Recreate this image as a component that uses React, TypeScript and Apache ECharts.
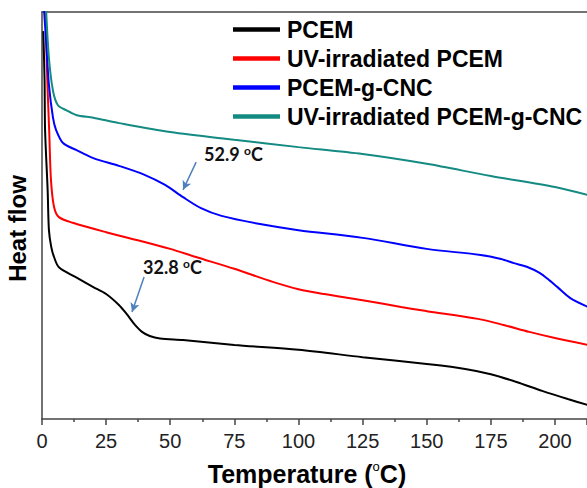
import React, { useEffect, useRef } from "react";
import * as echarts from "echarts";

const seriesNames = ["PCEM", "UV-irradiated PCEM", "PCEM-g-CNC", "UV-irradiated PCEM-g-CNC"];
const seriesColors = ["#000000", "#ff0000", "#0000ff", "#138a82"];

const pcemT = [0.5, 1.0, 1.2, 2.2, 2.7, 3.6, 4.7, 6.6, 13, 20, 25, 30, 33, 36, 39, 42, 46, 55, 75, 100, 125, 150, 165, 175, 185, 195, 205, 213];
const pcemY = [95.3, 83.3, 71.0, 56.3, 46.4, 42.3, 39.8, 37.3, 34.9, 32.4, 30.7, 28.0, 25.8, 23.3, 21.4, 20.4, 19.8, 19.4, 18.2, 17.0, 15.2, 13.5, 12.3, 11.0, 9.1, 6.9, 4.9, 3.4];

const uvPcemT = [1.4, 1.95, 2.85, 3.5, 4.7, 6.6, 12, 25, 40, 50, 60, 75, 90, 100, 110, 125, 140, 150, 170, 180, 190, 200, 213];
const uvPcemY = [101, 85.5, 70.0, 58.7, 52.1, 49.6, 48.2, 45.9, 43.5, 41.8, 39.8, 36.9, 33.7, 31.9, 30.7, 29.2, 27.5, 26.5, 24.6, 23.1, 21.4, 19.9, 18.2];

const cncT = [0.8, 1.6, 2.7, 4.3, 5.5, 8.2, 13.3, 20, 30, 40, 48, 55, 62, 70, 85, 100, 125, 150, 171, 179, 184, 189, 194, 198, 201, 206, 213];
const cncY = [100.5, 92.9, 82.1, 74.0, 71.0, 67.8, 66.1, 64.1, 62.2, 60.0, 57.5, 54.5, 51.8, 49.9, 47.9, 46.4, 44.5, 41.8, 40.3, 39.3, 38.3, 37.4, 35.9, 34.0, 32.4, 29.7, 27.5];

const uvCncT = [1.6, 2.7, 4.3, 6.2, 9.4, 13.3, 20, 30, 50, 75, 100, 125, 150, 175, 200, 213];
const uvCncY = [100.5, 88.7, 80.6, 77.1, 75.9, 74.7, 74.0, 72.7, 70.5, 68.6, 66.8, 65.1, 62.7, 59.7, 57.0, 55.0];

const xTicks = [0, 25, 50, 75, 100, 125, 150, 175, 200];

// annotations
const annoLabels = ["52.9", "32.8"];
const annoText = [[63.2, 65.1], [39.4, 37.3]];
const annoArrows = [[[60.1, 63.1], [55.0, 56.3]], [[39.8, 34.9], [35.1, 26.3]]];

const zip = (xs: number[], ys: number[]) => xs.map((x, i) => [x, ys[i]]);

export default function App() {
  const ref = useRef<HTMLDivElement>(null);
  useEffect(() => {
    if (!ref.current) return;
    const chart = echarts.init(ref.current, undefined, { renderer: "svg" });
    const datasets = [zip(pcemT, pcemY), zip(uvPcemT, uvPcemY), zip(cncT, cncY), zip(uvCncT, uvCncY)];
    const arrowColor = "#4f81bd";
    const series: any[] = datasets.map((d, i) => ({
      name: seriesNames[i],
      type: "line",
      data: d,
      smooth: 0.3,
      symbol: "none",
      lineStyle: { color: seriesColors[i], width: 2 },
      itemStyle: { color: seriesColors[i] },
      clip: true,
    }));
    series.push({
      name: "annotations",
      type: "line",
      data: [],
      symbol: "none",
      silent: true,
      markLine: {
        silent: true,
        symbol: ["none", "arrow"],
        symbolSize: [7, 9],
        label: { show: false },
        lineStyle: { color: arrowColor, width: 1.5, type: "solid" },
        data: annoArrows.map((a) => [{ coord: a[0] }, { coord: a[1] }]),
      },
      markPoint: {
        silent: true,
        symbol: "circle",
        symbolSize: 0,
        data: annoText.map((c, i) => ({
          coord: c,
          label: {
            show: true,
            position: "right",
            distance: 0,
            formatter: `{a|${annoLabels[i]} }{s|o}{a|C}`,
            rich: {
              a: { fontFamily: "Lato", fontWeight: "bold", fontSize: 18, color: "#111", lineHeight: 20 },
              s: { fontFamily: "Lato", fontWeight: "bold", fontSize: 12, color: "#111", verticalAlign: "top", lineHeight: 20 },
            },
          },
        })),
      },
    });

    chart.setOption({
      animation: false,
      backgroundColor: "#ffffff",
      grid: { left: 42, top: 12, right: 0, bottom: 69, containLabel: false, outerBoundsMode: "none" },
      legend: {
        data: seriesNames,
        orient: "vertical",
        left: 233,
        top: 18,
        padding: 0,
        itemWidth: 47,
        itemHeight: 14,
        itemGap: 6,
        icon: "path://M0,0 L10,0 L10,1 L0,1 Z",
        textStyle: { fontFamily: "Liberation Sans", fontWeight: "bold", fontSize: 23, color: "#000", padding: [0, 0, 0, 2] },
      },
      xAxis: [
        {
          type: "value",
          min: 0,
          max: 212.5,
          interval: 25,
          position: "bottom",
          axisLine: { show: true, onZero: false, lineStyle: { color: "#444", width: 1.5 } },
          axisTick: { show: true, length: 6, lineStyle: { color: "#444", width: 1.5 } },
          minorTick: { show: true, splitNumber: 2, length: 3, lineStyle: { color: "#444", width: 1.5 } },
          splitLine: { show: false },
          axisLabel: {
            margin: 12,
            fontFamily: "Liberation Sans",
            fontSize: 20,
            color: "#222",
            customValues: xTicks,
          },
          name: "Temperature ({s|o}C)",
          nameLocation: "middle",
          nameGap: 41,
          nameTextStyle: {
            fontFamily: "Liberation Sans",
            fontWeight: "bold",
            fontSize: 25,
            color: "#000",
            lineHeight: 27,
            padding: [0, 15, 0, 0],
            rich: {
              s: { fontFamily: "Liberation Sans", fontWeight: "normal", fontSize: 13, color: "#000", verticalAlign: "top", lineHeight: 17 },
            },
          },
        },
        {
          type: "value",
          min: 0,
          max: 212.5,
          position: "top",
          axisLine: { show: true, onZero: false, lineStyle: { color: "#444", width: 1.5 } },
          axisTick: { show: false },
          axisLabel: { show: false },
          splitLine: { show: false },
        },
      ],
      yAxis: {
        type: "value",
        min: 0,
        max: 100,
        axisLine: { show: true, onZero: false, lineStyle: { color: "#444", width: 1.5 } },
        axisTick: { show: false },
        axisLabel: { show: false },
        splitLine: { show: false },
        name: "Heat flow",
        nameLocation: "middle",
        nameGap: 13,
        nameTextStyle: { fontFamily: "Liberation Sans", fontWeight: "bold", fontSize: 24, color: "#000", padding: [0, 26, 0, 0] },
      },
      series,
    });
    return () => chart.dispose();
  }, []);
  return <div ref={ref} style={{ width: 587, height: 488, position: "absolute", left: 0, top: 0 }} />;
}
